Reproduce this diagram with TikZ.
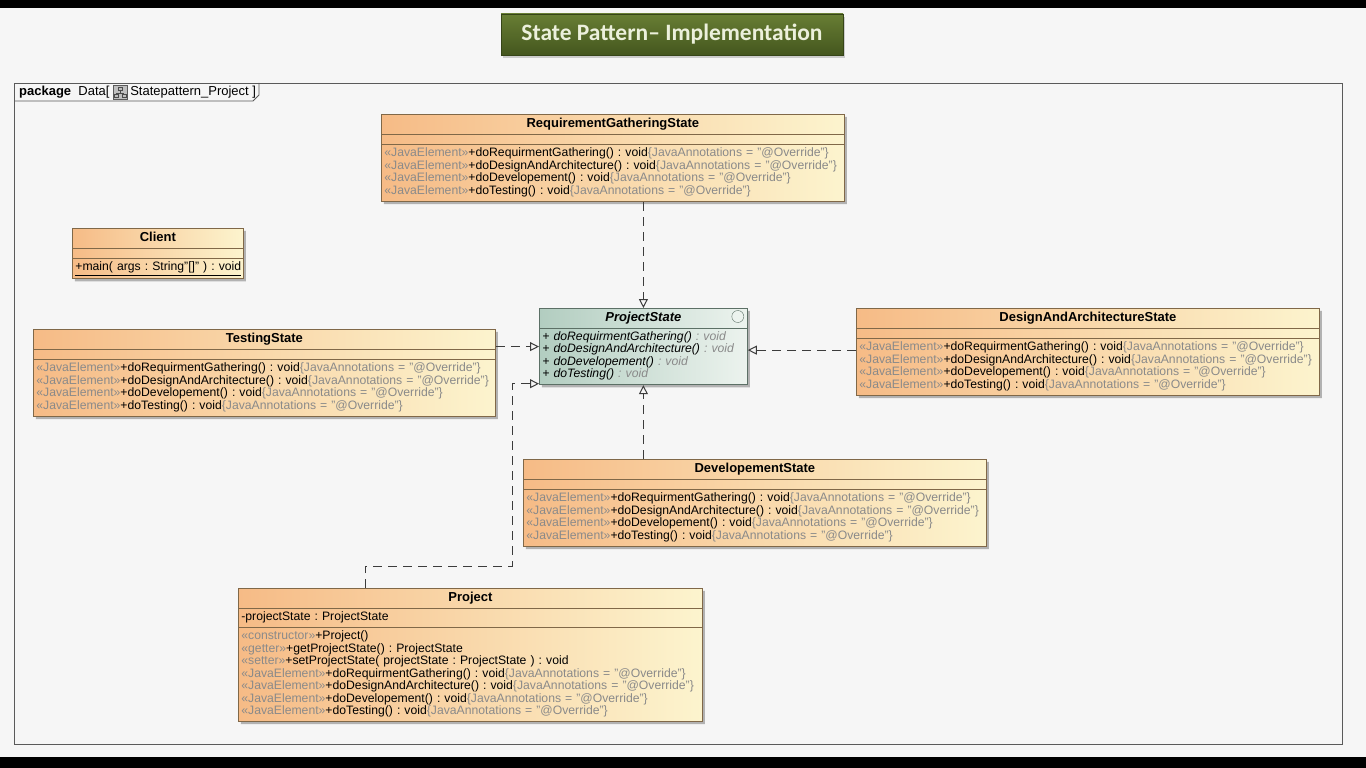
\documentclass[tikz,border=0pt]{standalone}
\usepackage{fontspec}
\setmainfont{Liberation Sans}
\newfontfamily\titlefont{Carlito}
\usetikzlibrary{positioning,shapes.multipart,shadows,arrows.meta}
\frenchspacing

\definecolor{classleft}{RGB}{246,187,134}
\definecolor{classright}{RGB}{252,244,206}
\definecolor{classline}{RGB}{128,104,72}
\definecolor{absleft}{RGB}{178,205,192}
\definecolor{absright}{RGB}{236,243,238}
\definecolor{absline}{RGB}{92,112,102}
\definecolor{stereo}{RGB}{138,138,138}
\definecolor{titletop}{RGB}{104,126,52}
\definecolor{titlebottom}{RGB}{68,86,30}
\definecolor{titletext}{RGB}{236,240,220}
\definecolor{paper}{RGB}{246,246,246}
\definecolor{frameline}{RGB}{90,90,90}
\definecolor{linkline}{RGB}{60,60,60}

% class text font, lines kept at 12.5pt
\protected\def\classfont{\fontsize{12.2}{12.5}\selectfont\lineskiplimit=-3pt\relax}
% class name, centred in the first compartment
\newcommand{\cname}[1]{\hspace*{\fill}{\fontsize{13}{11}\selectfont\bfseries\strut#1}\hspace*{\fill}\null}
\newcommand{\blankpart}{\rule{0pt}{4pt}}
\newcommand{\stereo}[1]{\textcolor{stereo}{«#1»}}
\newcommand{\javaop}[1]{\mbox{\strut\stereo{JavaElement}+#1 : void\textcolor{stereo}{\{JavaAnnotations = "@Override"\}}}}
\newcommand{\stateops}{\javaop{doRequirmentGathering()}\\
  \javaop{doDesignAndArchitecture()}\\
  \javaop{doDevelopement()}\\
  \javaop{doTesting()}}
\newcommand{\absop}[1]{\strut+ #1 \textcolor{stereo}{: void}}

\tikzset{
  umlclass/.style={rectangle split, rectangle split parts=3, rectangle split draw splits,
    draw=classline, line width=0.8pt, left color=classleft, right color=classright,
    text width=#1, align=left, inner xsep=3pt, inner ysep=3pt, anchor=north west,
    font=\classfont,
    drop shadow={shadow xshift=2.5pt, shadow yshift=-2.5pt, opacity=0.4, fill=black!70}},
  absclass/.style={umlclass=#1, rectangle split parts=2,
    draw=absline, left color=absleft, right color=absright,
    font=\classfont\itshape},
  realize/.style={draw=linkline, line width=1pt, dash pattern=on 9pt off 6pt,
    -{Triangle[open, length=9pt, width=9pt]}},
  titlebox/.style={minimum width=342pt, minimum height=41pt, inner sep=0pt,
    top color=titletop, bottom color=titlebottom, draw=titlebottom!80!black,
    text=titletext, font=\titlefont\bfseries\fontsize{23.5}{23.5}\selectfont,
    drop shadow={shadow xshift=2pt, shadow yshift=-3pt, opacity=0.35}},
  pkgtext/.style={inner sep=1pt, font=\fontsize{13}{13}\selectfont},
  pkgicon/.style={draw=frameline, fill=black!25, minimum size=14pt, inner sep=0pt}
}

\begin{document}
\begin{tikzpicture}[x=1pt,y=-1pt]
  \useasboundingbox (0,0) rectangle (1366,768);
  \fill[paper] (0,0) rectangle (1366,768);
  \fill[black] (0,0) rectangle (1366,8);
  \fill[black] (0,757) rectangle (1366,768);

  \node[titlebox] (title) at (672,34.5) {State Pattern– Implementation};

  % package frame
  \draw[frameline, line width=0.8pt] (14,83) rectangle (1342,744);
  \draw[frameline, line width=0.8pt] (14,101) -- (253,101) -- (259,95) -- (259,83);
  \node[pkgtext, anchor=west] (pkglabel) at (18,92) {\textbf{package}\ \ Data[};
  \node[pkgicon, right=2pt of pkglabel] (pkgicon) {};
  \draw[black!70, line width=0.5pt] ([xshift=-2pt,yshift=5pt]pkgicon.center) rectangle ([xshift=2pt,yshift=2pt]pkgicon.center)
    ([yshift=2pt]pkgicon.center) -- ([yshift=-1pt]pkgicon.center)
    ([xshift=-4pt,yshift=-1pt]pkgicon.center) -- ([xshift=4pt,yshift=-1pt]pkgicon.center)
    ([xshift=-6pt,yshift=-2pt]pkgicon.center) rectangle ([xshift=-2pt,yshift=-5pt]pkgicon.center)
    ([xshift=2pt,yshift=-2pt]pkgicon.center) rectangle ([xshift=6pt,yshift=-5pt]pkgicon.center);
  \node[pkgtext, right=2pt of pkgicon] (pkgproject) {Statepattern\_Project ]};

  % classes
  \node[absclass=202pt] (ps) at (539,308)
    {\cname{\itshape ProjectState}
     \nodepart{two}\absop{doRequirmentGathering()}\\
     \absop{doDesignAndArchitecture()}\\
     \absop{doDevelopement()}\\
     \absop{doTesting()}};
  \draw[absline, fill=absright] ([xshift=-10pt,yshift=-8.5pt]ps.north east) circle (6pt);

  \node[umlclass=457pt] (req) at (381,114)
    {\cname{RequirementGatheringState}\nodepart{two}\blankpart\nodepart{three}\stateops};
  \node[umlclass=165pt] (client) at (72,228)
    {\cname{Client}\nodepart{two}\blankpart
     \nodepart{three}\strut\underline{+main( args : String"[]" ) : void}};
  \node[umlclass=456pt] (testing) at (33,329)
    {\cname{TestingState}\nodepart{two}\blankpart\nodepart{three}\stateops};
  \node[umlclass=457pt] (design) at (856,308)
    {\cname{DesignAndArchitectureState}\nodepart{two}\blankpart\nodepart{three}\stateops};
  \node[umlclass=457pt] (devel) at (523,459)
    {\cname{DevelopementState}\nodepart{two}\blankpart\nodepart{three}\stateops};
  \node[umlclass=458pt] (project) at (238,588)
    {\cname{Project}
     \nodepart{two}\strut-projectState : ProjectState
     \nodepart{three}\strut\stereo{constructor}+Project()\\
     \strut\stereo{getter}+getProjectState() : ProjectState\\
     \strut\stereo{setter}+setProjectState( projectState : ProjectState ) : void\\
     \stateops};

  % realizations
  \draw[realize] (req.south -| ps.north) -- (ps.north);
  \draw[realize] (testing.east |- ps.west) -- (ps.west);
  \draw[realize] (design.west |- ps.east) ++(0,3.5) -- ([yshift=-3.5pt]ps.east);
  \draw[realize] (devel.north -| ps.south) -- (ps.south);
  \coordinate (bend) at (512,566);
  \draw[realize] ([xshift=-105pt]project.north) |- (bend) |- ([yshift=1.5pt]ps.south west);
\end{tikzpicture}
\end{document}
